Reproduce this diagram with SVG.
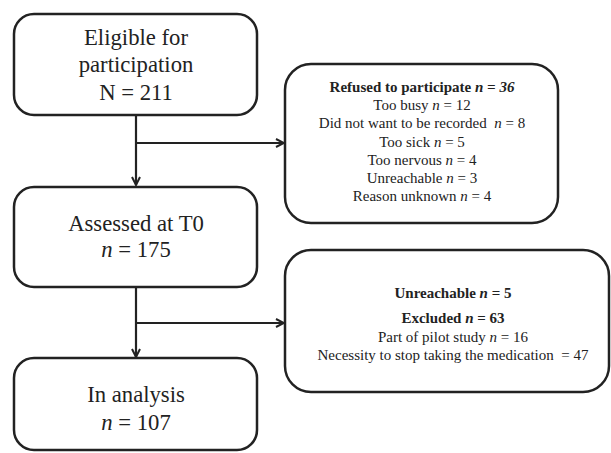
<svg xmlns="http://www.w3.org/2000/svg" width="611" height="453" viewBox="0 0 611 453">
<style>
.box{fill:#fff;stroke:#222;stroke-width:2.5}
.line{fill:none;stroke:#222;stroke-width:2.2}
.big{font-family:"Liberation Serif","Times New Roman",serif;font-size:22.7px;fill:#222;text-anchor:middle}
.small{font-family:"Liberation Serif","Times New Roman",serif;font-size:15px;fill:#222;text-anchor:middle}
.b{font-weight:bold}
</style>
<defs>
<marker id="arr" viewBox="0 0 10 10" refX="9" refY="5" markerWidth="10" markerHeight="10" markerUnits="userSpaceOnUse" orient="auto">
<path d="M1,1 L9,5 L1,9" fill="none" stroke="#222" stroke-width="2"/>
</marker>
</defs>
<rect width="611" height="453" fill="#fff"/>
<g id="connectors">
<line class="line" x1="136" y1="115" x2="136" y2="185" marker-end="url(#arr)"/>
<line class="line" x1="136" y1="143" x2="284" y2="143" marker-end="url(#arr)"/>
<line class="line" x1="136" y1="287" x2="136" y2="357" marker-end="url(#arr)"/>
<line class="line" x1="136" y1="323" x2="284" y2="323" marker-end="url(#arr)"/>
</g>
<g id="eligible">
<rect class="box" x="14" y="14" width="243" height="101" rx="20"/>
<text class="big" x="136" y="45">Eligible for</text>
<text class="big" x="136" y="72">participation</text>
<text class="big" x="136" y="100">N = 211</text>
</g>
<g id="refused">
<rect class="box" x="285" y="64" width="273" height="159" rx="26"/>
<text class="small" x="422" y="92"><tspan class="b">Refused to participate </tspan><tspan class="b" font-style="italic">n = 36</tspan></text>
<text class="small" x="422" y="110">Too busy <tspan font-style="italic">n</tspan> = 12</text>
<text class="small" x="422" y="128" xml:space="preserve">Did not want to be recorded  <tspan font-style="italic">n</tspan> = 8</text>
<text class="small" x="422" y="147">Too sick <tspan font-style="italic">n</tspan> = 5</text>
<text class="small" x="422" y="165">Too nervous <tspan font-style="italic">n</tspan> = 4</text>
<text class="small" x="422" y="183">Unreachable <tspan font-style="italic">n</tspan> = 3</text>
<text class="small" x="422" y="201">Reason unknown <tspan font-style="italic">n</tspan> = 4</text>
</g>
<g id="assessed">
<rect class="box" x="14" y="187" width="243" height="100" rx="20"/>
<text class="big" x="136" y="231">Assessed at T0</text>
<text class="big" x="136" y="257"><tspan font-style="italic">n</tspan> = 175</text>
</g>
<g id="excluded">
<rect class="box" x="285" y="250" width="324" height="142" rx="26"/>
<text class="small b" x="453" y="298">Unreachable <tspan font-style="italic">n</tspan> = 5</text>
<text class="small b" x="453" y="323">Excluded <tspan font-style="italic">n</tspan> = 63</text>
<text class="small" x="453" y="342">Part of pilot study <tspan font-style="italic">n</tspan> = 16</text>
<text class="small" x="453" y="360" xml:space="preserve">Necessity to stop taking the medication  = 47</text>
</g>
<g id="analysis">
<rect class="box" x="14" y="358" width="243" height="92" rx="20"/>
<text class="big" x="136" y="402">In analysis</text>
<text class="big" x="136" y="430"><tspan font-style="italic">n</tspan> = 107</text>
</g>
</svg>
